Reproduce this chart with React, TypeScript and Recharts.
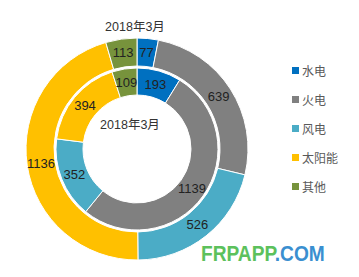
import { PieChart, Pie, Cell, Legend } from "recharts";

const categories = ["水电", "火电", "风电", "太阳能", "其他"];
const outerValues = [77, 639, 526, 1136, 113];
const innerValues = [193, 1139, 352, 394, 109];
const colors = ["#0070C0", "#808080", "#4BACC6", "#FFC000", "#77933C"];
const periodLabel = "2018年3月";

const outerData = categories.map((name, i) => ({ name, value: outerValues[i] }));
const innerData = categories.map((name, i) => ({ name, value: innerValues[i] }));

const RADIAN = Math.PI / 180;
const fontStack = '"Liberation Sans", "Noto Sans CJK SC", sans-serif';

const renderLabel = (props: any) => {
  const { cx, cy, midAngle, innerRadius, outerRadius, value } = props;
  const r = (innerRadius + outerRadius) / 2;
  const x = cx + r * Math.cos(-midAngle * RADIAN);
  const y = cy + r * Math.sin(-midAngle * RADIAN);
  return (
    <text
      x={x}
      y={y}
      fill="#222"
      fontSize={13}
      fontFamily={fontStack}
      textAnchor="middle"
      dominantBaseline="central"
    >
      {value}
    </text>
  );
};

const renderLegend = () => (
  <div style={{ fontFamily: '"Noto Sans CJK SC", sans-serif', fontSize: 12, color: "#595959" }}>
    {categories.map((name, i) => (
      <div key={name} style={{ display: "flex", alignItems: "center", height: 29 }}>
        <span
          style={{ display: "inline-block", width: 7, height: 7, background: colors[i], marginRight: 3 }}
        />
        <span>{name}</span>
      </div>
    ))}
  </div>
);

export default function App() {
  return (
    <div style={{ position: "fixed", left: 0, top: 0, width: 359, height: 277, background: "#fff" }}>
      <PieChart width={359} height={277} margin={{ top: 0, right: 0, bottom: 0, left: 0 }}>
        <Pie
          data={innerData}
          dataKey="value"
          cx={137}
          cy={149}
          innerRadius={54}
          outerRadius={81}
          startAngle={90}
          endAngle={-270}
          stroke="#fff"
          strokeWidth={1}
          label={renderLabel}
          labelLine={false}
          isAnimationActive={false}
        >
          {innerData.map((d, i) => (
            <Cell key={d.name} fill={colors[i]} />
          ))}
        </Pie>
        <Pie
          data={outerData}
          dataKey="value"
          cx={137}
          cy={149}
          innerRadius={83}
          outerRadius={111}
          startAngle={90}
          endAngle={-270}
          stroke="#fff"
          strokeWidth={1}
          label={renderLabel}
          labelLine={false}
          isAnimationActive={false}
        >
          {outerData.map((d, i) => (
            <Cell key={d.name} fill={colors[i]} />
          ))}
        </Pie>
        <Legend
          layout="vertical"
          content={renderLegend}
          wrapperStyle={{ left: 292, top: 56, width: 60 }}
        />
        <text x={135} y={27} textAnchor="middle" dominantBaseline="central" fontSize={12.5} fill="#333" fontFamily={fontStack}>
          {periodLabel}
        </text>
        <text x={130} y={125} textAnchor="middle" dominantBaseline="central" fontSize={12.5} fill="#333" fontFamily={fontStack}>
          {periodLabel}
        </text>
      </PieChart>
      <div
        style={{
          position: "absolute",
          left: 201,
          top: 241,
          fontFamily: '"Liberation Sans", sans-serif',
          fontWeight: "bold",
          fontSize: 22,
          transform: "scaleX(0.87)",
          transformOrigin: "left top",
          whiteSpace: "nowrap",
        }}
      >
        <span style={{ color: "#5CC15C" }}>FRPAPP</span>
        <span style={{ color: "#3A8FD0" }}>.COM</span>
      </div>
    </div>
  );
}
